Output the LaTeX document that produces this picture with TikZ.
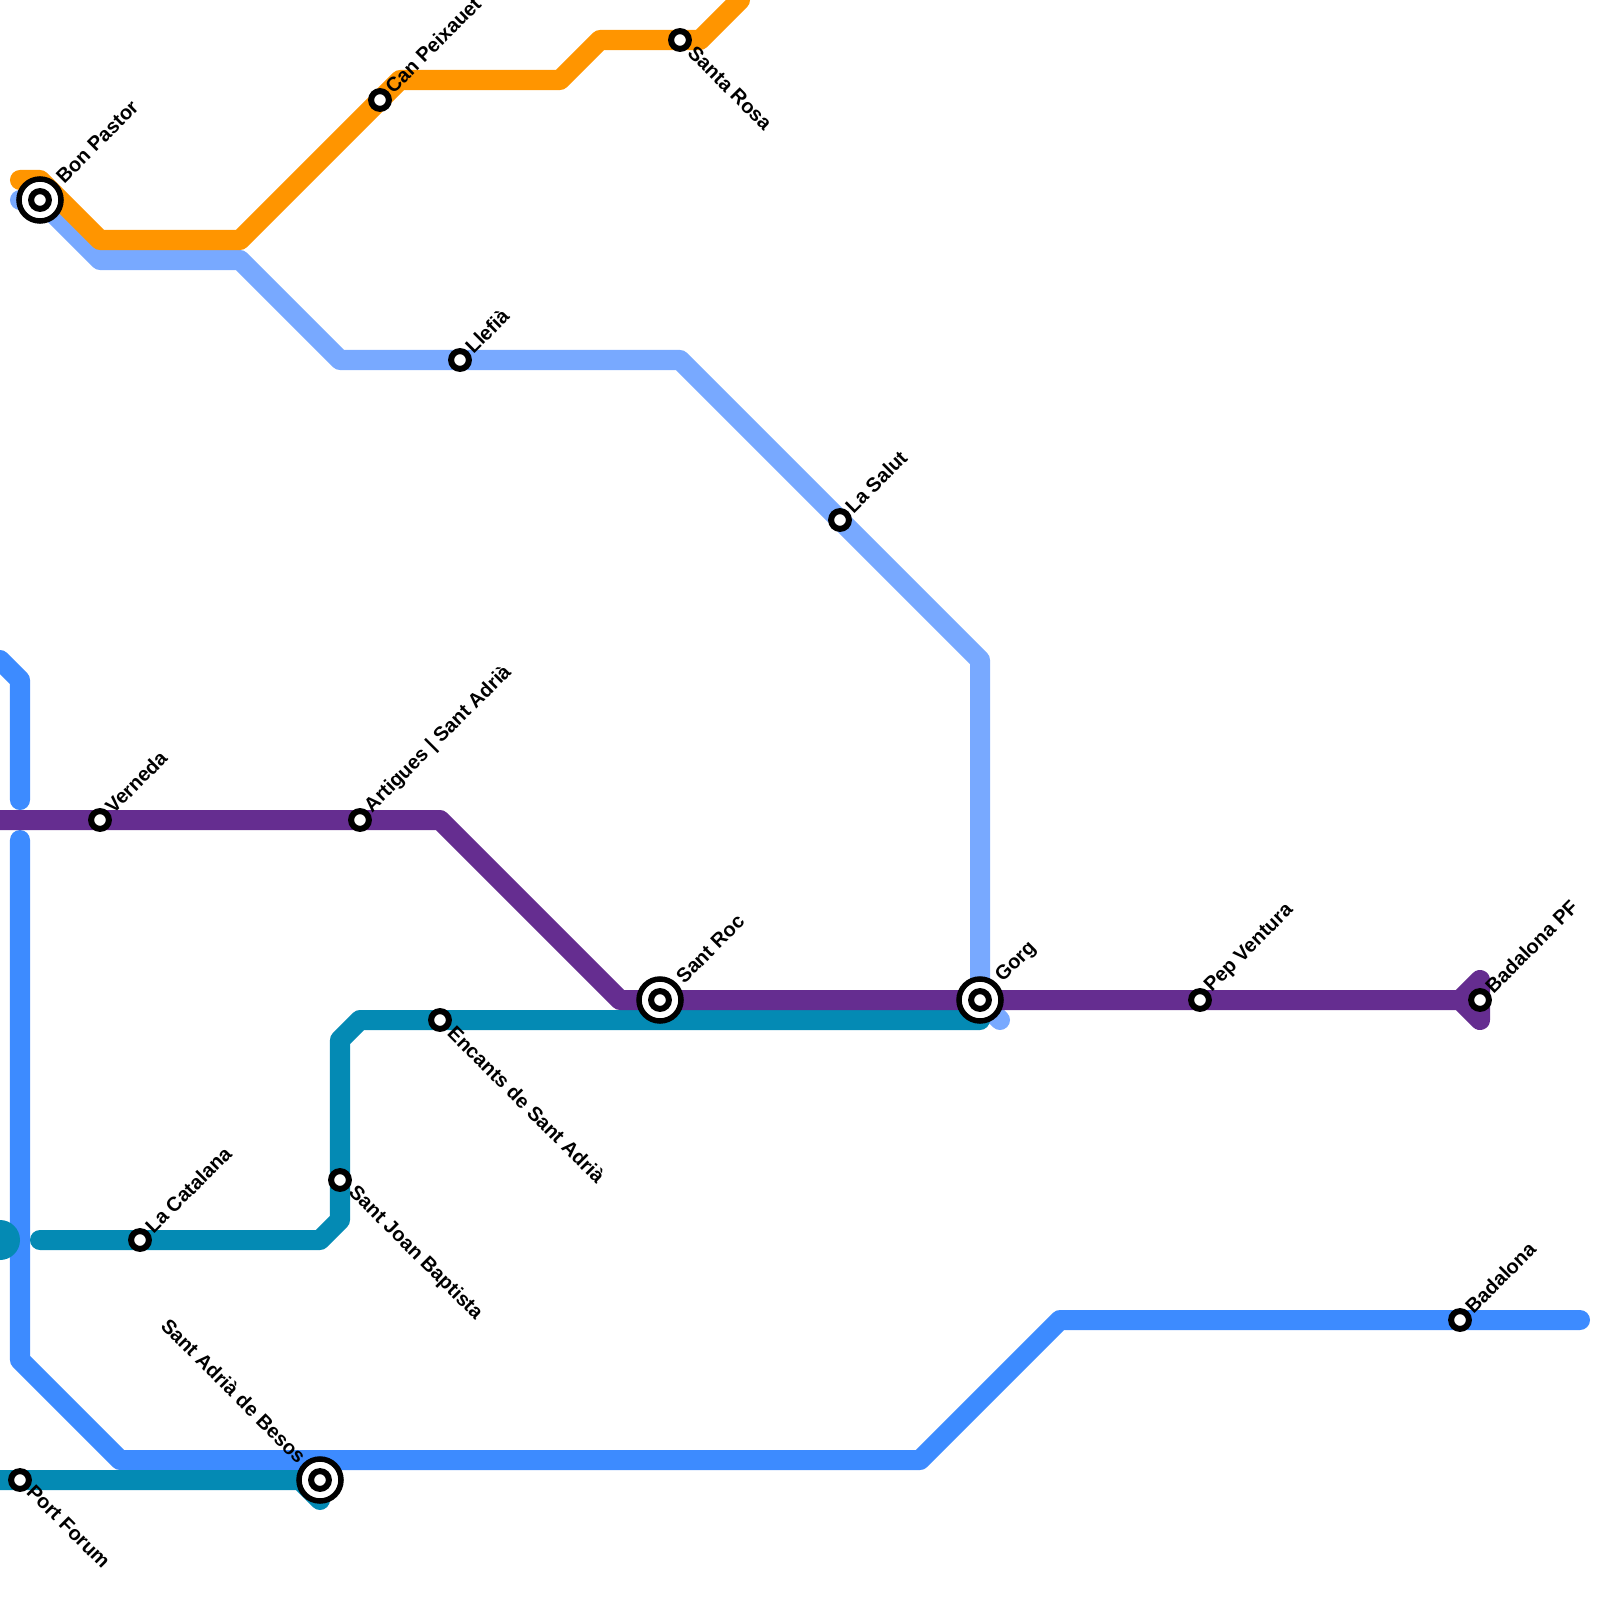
\documentclass[tikz,border=0pt]{standalone}
\usepackage{xcolor}
\usepackage{fontspec}
\setmainfont{Liberation Sans}
\usetikzlibrary{calc}
\definecolor{lineorange}{HTML}{FF9500}
\definecolor{linesky}{HTML}{78A9FF}
\definecolor{lineblue}{HTML}{3D8BFF}
\definecolor{lineteal}{HTML}{048AB4}
\definecolor{linepurple}{HTML}{652D90}
\tikzset{
  metroline/.style={line width=2mm, line cap=round, line join=round},
  stopsmall/.style={draw=black, fill=white, circle, line width=0.6mm, minimum size=1.78mm, inner sep=0pt},
  stopbig/.style={draw=black, fill=white, circle, line width=0.55mm, minimum size=4.2mm, inner sep=0pt},
  stoplabel/.style={font=\fontsize{5.69pt}{6.5pt}\selectfont\bfseries, inner sep=0pt, anchor=west},
  labelup/.style={stoplabel, rotate=45},
  labeldown/.style={stoplabel, rotate=-45},
  labelback/.style={stoplabel, rotate=-45, anchor=east}
}
\begin{document}
\begin{tikzpicture}[x=0.01cm,y=-0.01cm]
\useasboundingbox (0,0) rectangle (1600,1600);
\clip (0,0) rectangle (1600,1600);
% lines
\draw[metroline, linesky] (20,200) -- (40,200) -- (100,260) -- (240,260) -- (340,360) -- (680,360) -- (980,660) -- (980,1000) -- (1000,1020);
\draw[metroline, lineblue] (0,660) -- (20,680) -- (20,800);
\draw[metroline, lineblue] (20,840) -- (20,1360) -- (120,1460) -- (920,1460) -- (1060,1320) -- (1580,1320);
\draw[metroline, lineteal] (40,1240) -- (320,1240) -- (340,1220) -- (340,1040) -- (360,1020) -- (980,1020);
\draw[metroline, lineteal] (0,1480) -- (300,1480) -- (320,1500);
\fill[lineteal] (0,1240) circle (20);
\draw[metroline, lineorange] (20,180) -- (40,180) -- (100,240) -- (240,240) -- (400,80) -- (560,80) -- (600,40) -- (700,40) -- (740,0);
\draw[metroline, linepurple] (-10,820) -- (440,820) -- (620,1000) -- (1460,1000) -- (1480,980) -- (1480,1020) -- (1460,1000);
% stops
\node[stopbig] (bonpastor) at (40,200) {};
\node[stopbig] (santroc) at (660,1000) {};
\node[stopbig] (gorg) at (980,1000) {};
\node[stopbig] (santadria) at (320,1480) {};
\foreach \p in {bonpastor,santroc,gorg,santadria} {
  \node[stopsmall] (\p-in) at (\p) {};
}
\node[stopsmall] (canpeixauet) at (380,100) {};
\node[stopsmall] (santarosa) at (680,40) {};
\node[stopsmall] (llefia) at (460,360) {};
\node[stopsmall] (lasalut) at (840,520) {};
\node[stopsmall] (pepventura) at (1200,1000) {};
\node[stopsmall] (badalonapf) at (1480,1000) {};
\node[stopsmall] (verneda) at (100,820) {};
\node[stopsmall] (artigues) at (360,820) {};
\node[stopsmall] (encants) at (440,1020) {};
\node[stopsmall] (santjoan) at (340,1180) {};
\node[stopsmall] (lacatalana) at (140,1240) {};
\node[stopsmall] (badalona) at (1460,1320) {};
\node[stopsmall] (portforum) at (20,1480) {};
% names
\node[labelup] (bonpastor-t) at ($(bonpastor)+(19,-20)$) {Bon Pastor};
\node[labelup] (santroc-t) at ($(santroc)+(19,-20)$) {Sant Roc};
\node[labelup] (gorg-t) at ($(gorg)+(19,-20)$) {Gorg};
\node[labelback] (santadria-t) at ($(santadria)+(-17,-20)$) {Sant Adrià de Besos};
\node[labelup] (canpeixauet-t) at ($(canpeixauet)+(8,-10)$) {Can Peixauet};
\node[labeldown] (santarosa-t) at ($(santarosa)+(11,9)$) {Santa Rosa};
\node[labelup] (llefia-t) at ($(llefia)+(8,-10)$) {Llefià};
\node[labelup] (lasalut-t) at ($(lasalut)+(8,-10)$) {La Salut};
\node[labelup] (pepventura-t) at ($(pepventura)+(8,-10)$) {Pep Ventura};
\node[labelup] (badalonapf-t) at ($(badalonapf)+(8,-10)$) {Badalona PF};
\node[labelup] (verneda-t) at ($(verneda)+(8,-10)$) {Verneda};
\node[labelup] (artigues-t) at ($(artigues)+(8,-10)$) {Artigues | Sant Adrià};
\node[labeldown] (encants-t) at ($(encants)+(11,9)$) {Encants de Sant Adrià};
\node[labeldown] (santjoan-t) at ($(santjoan)+(11,9)$) {Sant Joan Baptista};
\node[labelup] (lacatalana-t) at ($(lacatalana)+(8,-10)$) {La Catalana};
\node[labelup] (badalona-t) at ($(badalona)+(8,-10)$) {Badalona};
\node[labeldown] (portforum-t) at ($(portforum)+(10,8)$) {Port Forum};
\end{tikzpicture}
\end{document}
